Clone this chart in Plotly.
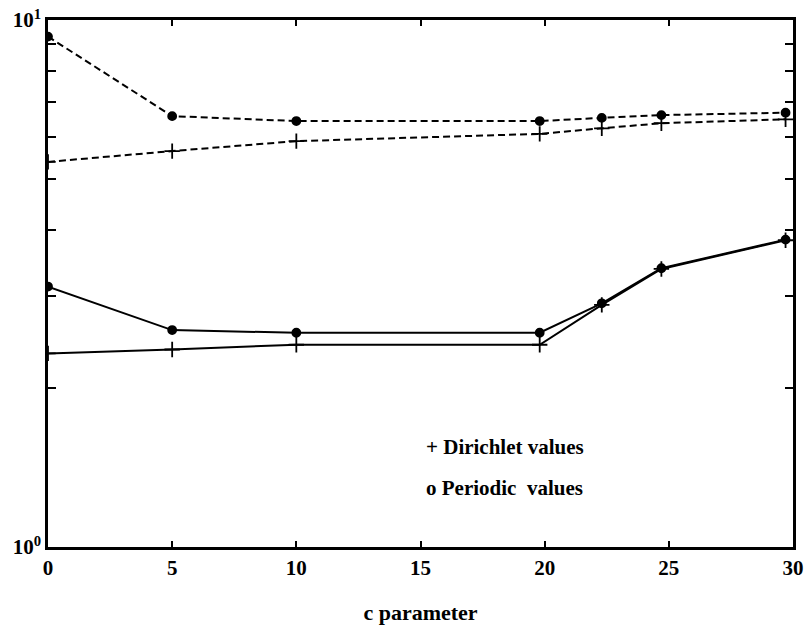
import plotly.graph_objects as go

c_values = [0, 5, 10, 19.8, 22.3, 24.7, 29.7]

periodic_dashed = [9.3, 6.57, 6.43, 6.43, 6.52, 6.60, 6.67]
dirichlet_dashed = [5.38, 5.64, 5.89, 6.08, 6.23, 6.37, 6.48]
periodic_solid = [3.12, 2.58, 2.55, 2.55, 2.90, 3.38, 3.83]
dirichlet_solid = [2.33, 2.37, 2.42, 2.42, 2.88, 3.37, 3.82]

x_ticks = [0, 5, 10, 15, 20, 25, 30]
x_ticktext = ["<b>%d</b>" % v for v in x_ticks]
y_tickvals = [1, 2, 3, 4, 5, 6, 7, 8, 9, 10]
y_ticktext = ["<b>10<sup>0</sup></b>", "", "", "", "", "", "", "", "", "<b>10<sup>1</sup></b>"]

FONT = "Liberation Serif"

fig = go.Figure()

def add(y, dash, symbol, size):
    fig.add_trace(go.Scatter(
        x=c_values, y=y, mode="lines+markers",
        line=dict(color="black", width=2, dash=dash),
        marker=dict(symbol=symbol, size=size, color="black",
                    line=dict(color="black", width=1.8)),
        showlegend=False,
    ))

add(periodic_dashed, "7px,4px", "circle", 8)
add(dirichlet_dashed, "7px,4px", "cross-thin", 11)
add(periodic_solid, "solid", "circle", 8)
add(dirichlet_solid, "solid", "cross-thin", 11)

fig.add_annotation(x=0.505, y=0.190, xref="paper", yref="paper", xanchor="left",
                   yanchor="middle",
                   text="<b>+ Dirichlet values</b>", showarrow=False,
                   font=dict(family=FONT, size=21, color="black"))
fig.add_annotation(x=0.505, y=0.112, xref="paper", yref="paper", xanchor="left",
                   yanchor="middle",
                   text="<b>o Periodic  values</b>", showarrow=False,
                   font=dict(family=FONT, size=21, color="black"))

fig.update_layout(
    width=809, height=625,
    margin=dict(l=48, r=16, t=20, b=78, autoexpand=False),
    paper_bgcolor="white", plot_bgcolor="white",
    font=dict(family=FONT, color="black", size=16),
    xaxis=dict(
        range=[0, 30], tickvals=x_ticks, ticktext=x_ticktext,
        ticks="inside", ticklen=6, automargin=False,
        tickwidth=1.5, tickcolor="black", showline=True, linewidth=2.5,
        linecolor="black", mirror="ticks", showgrid=False, zeroline=False,
        tickfont=dict(family=FONT, size=21),
        title=dict(text="<b>c parameter</b>",
                   font=dict(family=FONT, size=22), standoff=27),
    ),
    yaxis=dict(
        type="log", range=[0, 1], tickvals=y_tickvals, ticktext=y_ticktext,
        ticks="inside", ticklen=8, tickwidth=1.5, tickcolor="black",
        showline=True, linewidth=2.5, linecolor="black", mirror="ticks",
        showgrid=False, zeroline=False, automargin=False,
        tickfont=dict(family=FONT, size=21),
    ),
)

fig.write_html("out.html")
